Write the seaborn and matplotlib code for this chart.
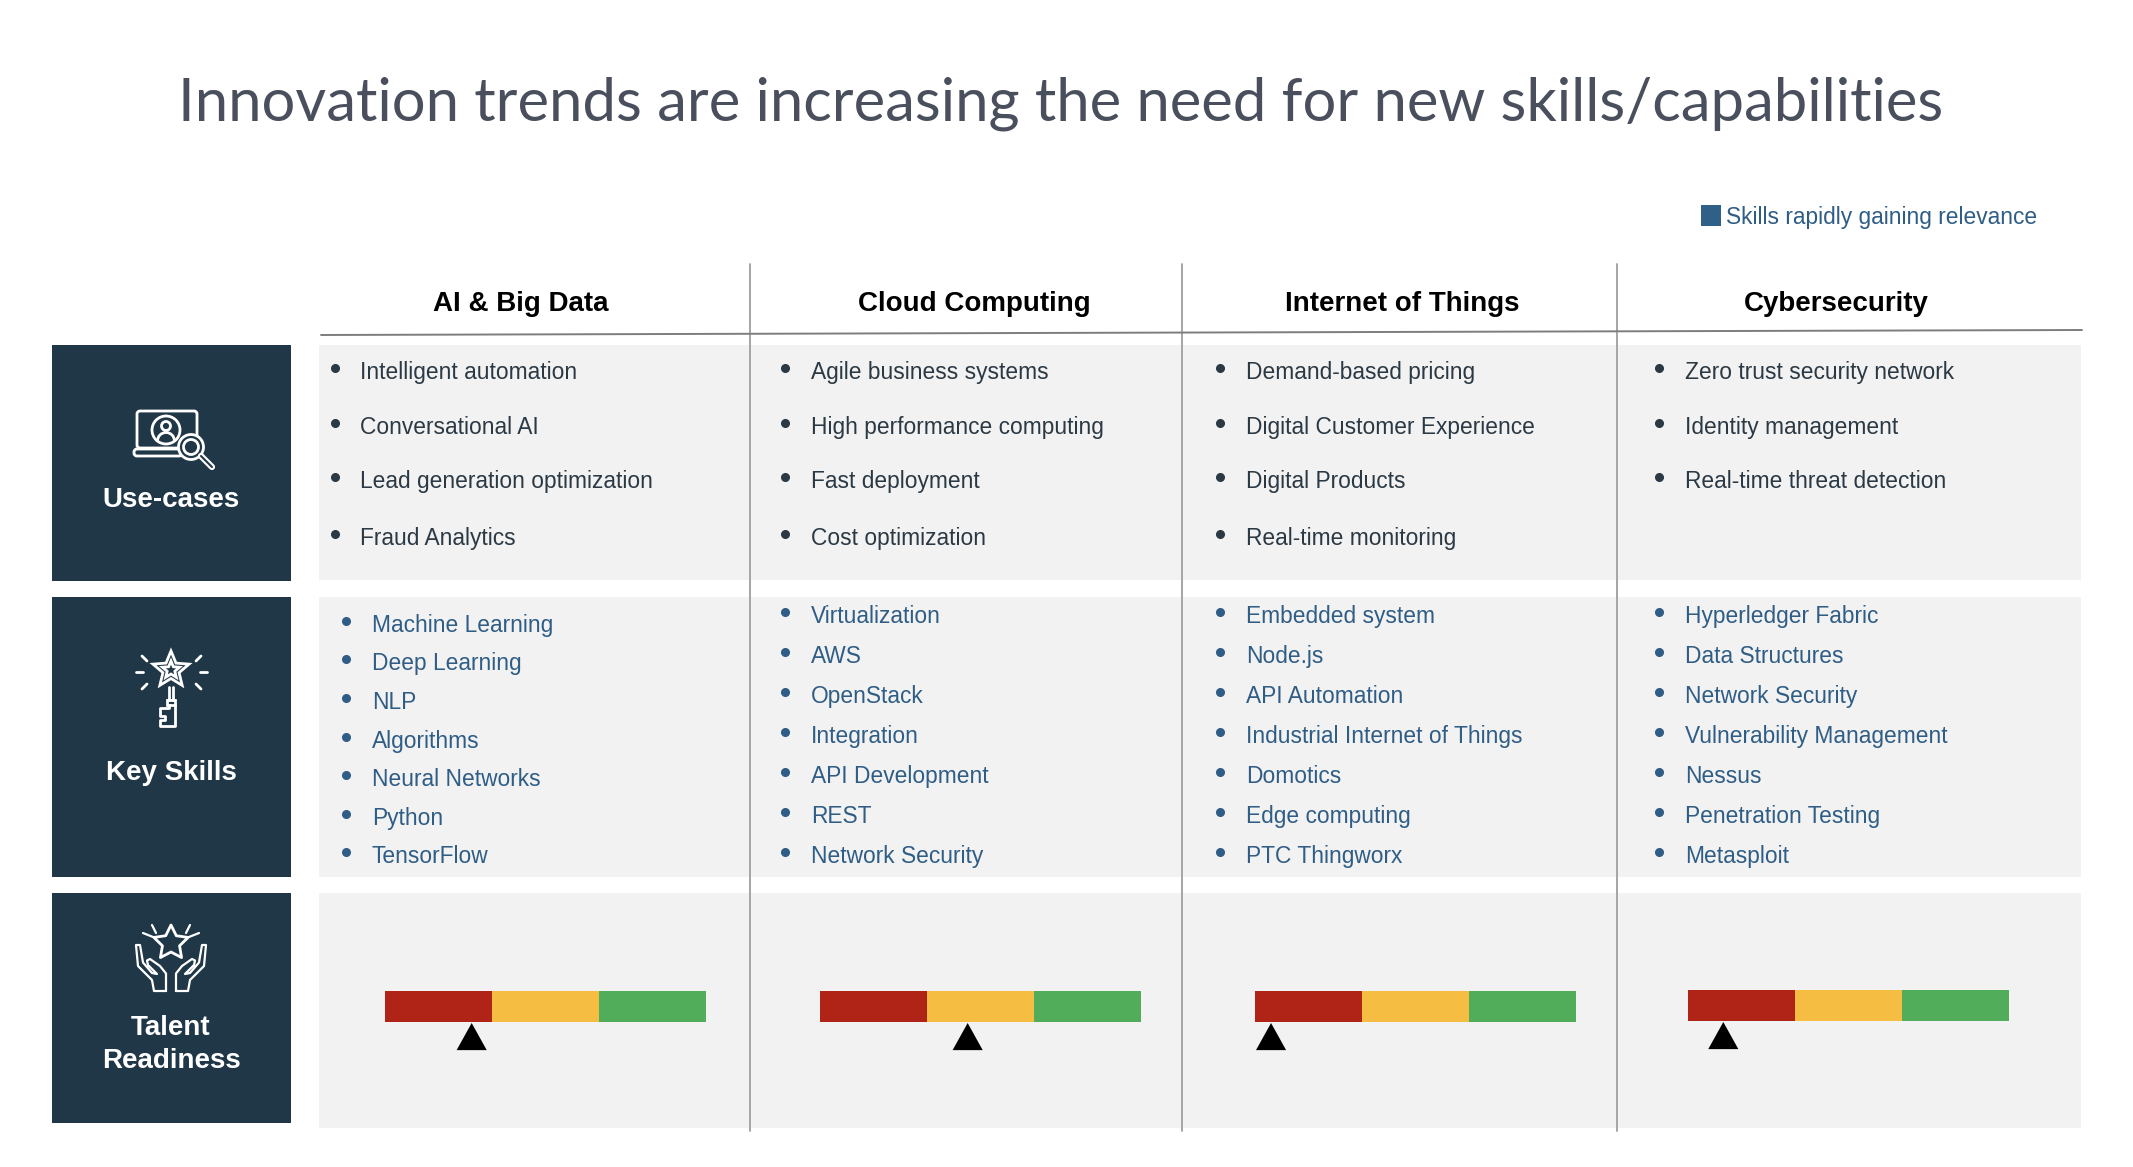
import matplotlib
matplotlib.use('Agg')
from matplotlib import pyplot as plt
from matplotlib.patches import Rectangle, FancyBboxPatch, Circle, Polygon, Arc
from matplotlib.path import Path
import numpy as np
import pandas as pd
import seaborn as sns

title = 'Innovation trends are increasing the need for new skills/capabilities'
legend_label = 'Skills rapidly gaining relevance'
columns = ['AI & Big Data', 'Cloud Computing', 'Internet of Things', 'Cybersecurity']

use_cases = [
    ['Intelligent automation', 'Conversational AI', 'Lead generation optimization', 'Fraud Analytics'],
    ['Agile business systems', 'High performance computing', 'Fast deployment', 'Cost optimization'],
    ['Demand-based pricing', 'Digital Customer Experience', 'Digital Products', 'Real-time monitoring'],
    ['Zero trust security network', 'Identity management', 'Real-time threat detection'],
]
key_skills = [
    ['Machine Learning', 'Deep Learning', 'NLP', 'Algorithms', 'Neural Networks', 'Python', 'TensorFlow'],
    ['Virtualization', 'AWS', 'OpenStack', 'Integration', 'API Development', 'REST', 'Network Security'],
    ['Embedded system', 'Node.js', 'API Automation', 'Industrial Internet of Things', 'Domotics',
     'Edge computing', 'PTC Thingworx'],
    ['Hyperledger Fabric', 'Data Structures', 'Network Security', 'Vulnerability Management', 'Nessus',
     'Penetration Testing', 'Metasploit'],
]
# gauge: three equal bands, marker = position on the 0-100 scale
band_names = ['Low', 'Medium', 'High']
band_tops = [33.3, 66.6, 100]
readiness = [27, 46, 5, 11]

NAVY = '#203748'
PANEL = '#f2f2f2'
BLUE = '#2f5d85'
DARK = '#2b3944'
BAND_COLORS = ['#b02418', '#f5bd41', '#52ad5b']
W, H = 2133, 1167

sns.set_theme(style='white')
plt.rcParams['font.family'] = ['Liberation Sans', 'DejaVu Sans']

fig = plt.figure(figsize=(W / 100, H / 100), dpi=100, facecolor='white')
ax = fig.add_axes([0, 0, 1, 1])
ax.set_xlim(0, W)
ax.set_ylim(H, 0)
ax.axis('off')

ax.text(1061, 104, title, ha='center', va='center', fontsize=43, color='#4a4f5e', family='Lato')

ax.add_patch(Rectangle((1701, 205), 20, 21, color='#2f6188', lw=0))
ax.text(1726, 224, legend_label, ha='left', va='baseline', fontsize=16.4, color=BLUE)

# left boxes and grey panels
for y0, y1, y2 in [(345, 581, 580), (597, 877, 877), (893, 1123, 1128)]:
    ax.add_patch(Rectangle((52, y0), 239, y1 - y0, color=NAVY, lw=0))
    ax.add_patch(Rectangle((319, y0), 1762, y2 - y0, color=PANEL, lw=0))

for x in [750, 1182, 1617]:
    ax.plot([x, x], [264, 1131], color='#a3a6a8', lw=1.4, zorder=3)
ax.plot([321, 2082], [335, 330], color='#7d7d7d', lw=1.4, zorder=3)

for x, name in zip([521, 974, 1402, 1836], columns):
    ax.text(x, 311, name, ha='center', va='baseline', fontsize=20, fontweight='bold', color='black')

for label, y in [('Use-cases', 507), ('Key Skills', 780), ('Talent', 1035), ('Readiness', 1068)]:
    ax.text(171, y, label, ha='center', va='baseline', fontsize=20, fontweight='bold', color='white')

# lists
text_x = [360, 811, 1246, 1685]
bullet_x = [335, 785, 1220, 1659]
use_y = [371, 426, 480, 537]
skill_y = [615, 655, 695, 735, 775, 815, 855]
skill_y_first = [624, 662, 701, 740, 778, 817, 855]

for i, items in enumerate(use_cases):
    for y, item in zip(use_y, items):
        ax.plot(bullet_x[i], y - 3, 'o', ms=5.5, color=DARK)
        ax.text(text_x[i], y + 8, item, ha='left', va='baseline', fontsize=16.4, color=DARK)

for i, items in enumerate(key_skills):
    ys = skill_y_first if i == 0 else skill_y
    tx = 372 if i == 0 else text_x[i]
    bx = 346 if i == 0 else bullet_x[i]
    for y, item in zip(ys, items):
        ax.plot(bx, y - 3, 'o', ms=5.5, color=BLUE)
        ax.text(tx, y + 8, item, ha='left', va='baseline', fontsize=16.4, color=BLUE)

# gauges, one small axes each
gauge_x = [385, 820, 1255, 1688]
gauge_w = 321
gauge_top = [991, 991, 991, 990]
band_h = 31
tri = Path([(-1, -0.9), (1, -0.9), (0, 0.9), (-1, -0.9)], closed=True)
for x0, top, value in zip(gauge_x, gauge_top, readiness):
    gax = fig.add_axes([x0 / W, 1 - (top + 3 * band_h) / H, gauge_w / W, 3 * band_h / H])
    gax.patch.set_alpha(0)
    # widest first so the narrower bands sit on top
    for name, end, color in list(zip(band_names, band_tops, BAND_COLORS))[::-1]:
        df = pd.DataFrame({'row': ['gauge'], 'pos': [end]})
        sns.barplot(data=df, x='pos', y='row', orient='h', width=1, color=color, saturation=1,
                    linewidth=0, ax=gax)
    sns.scatterplot(x=[value], y=[0.97], marker=tri, s=470, color='black', edgecolor='none',
                    legend=False, clip_on=False, ax=gax)
    gax.set_xlim(0, 100)
    gax.set_ylim(2.5, -0.5)
    gax.axis('off')

# icons, hand drawn with thin white lines
line = dict(color='white', lw=2, solid_capstyle='round', solid_joinstyle='round', zorder=4)


def outline(patch):
    patch.set(edgecolor='white', lw=2, zorder=4)
    ax.add_patch(patch)


# laptop with magnifier
outline(FancyBboxPatch((137, 411), 60, 37, boxstyle='round,pad=0,rounding_size=3', facecolor='none'))
outline(FancyBboxPatch((134, 449), 48, 7, boxstyle='round,pad=0,rounding_size=3', facecolor=NAVY))
outline(Circle((166, 430), 14, facecolor='none'))
outline(Circle((166, 426), 4.5, facecolor='none'))
outline(Arc((166, 441), 17, 17, theta1=180, theta2=360, fill=False))
outline(Circle((191, 447), 12.5, facecolor=NAVY))
outline(Circle((191, 447), 7.5, facecolor='none'))
ax.plot([201, 212], [456, 467], **dict(line, lw=4.5))
ax.plot([201, 212], [456, 467], color=NAVY, lw=1.5, zorder=5)

# star key
angles = np.deg2rad(np.arange(0, 360, 36) - 90)
for outer, inner in [(19, 8.5), (9, 4)]:
    radii = np.where(np.arange(10) % 2 == 0, outer, inner)
    star = np.column_stack([171 + radii * np.cos(angles), 670 + radii * np.sin(angles)])
    outline(Polygon(star, closed=True, facecolor='none'))
ax.plot([169, 169], [687, 700], **line)
ax.plot([173, 173], [687, 700], **line)
ax.add_patch(Rectangle((167, 700), 8, 5, facecolor='none', edgecolor='white', lw=2, zorder=4))
ax.plot([169, 169, 160, 160, 165, 165, 160, 160, 175, 175],
        [705, 708, 708, 716, 716, 720, 720, 726, 726, 705], **line)
for a, b, c, d in [(142, 656, 147, 661), (136, 672, 143, 672), (142, 689, 147, 684),
                   (201, 656, 196, 661), (200, 672, 207, 672), (196, 684, 201, 689)]:
    ax.plot([a, c], [b, d], **line)

# hands and star
radii = np.where(np.arange(10) % 2 == 0, 18, 9)
star = np.column_stack([171 + radii * np.cos(angles), 943 + radii * np.sin(angles)])
outline(Polygon(star, closed=True, facecolor='none', joinstyle='round'))
hand = np.array([(166, 991), (166, 973.5), (160, 966), (150, 959), (147, 960.5), (148, 965), (157, 974),
                 (152, 973), (143, 962.5), (140, 945), (136, 945), (138, 966), (152, 980), (154, 991),
                 (166, 991)])
for sign in [0, 1]:
    pts = hand if sign == 0 else np.column_stack([342 - hand[:, 0], hand[:, 1]])
    ax.plot(pts[:, 0], pts[:, 1], color='white', lw=1.6, zorder=4)
for a, b, c, d in [(152, 925, 156, 933), (143, 933, 153, 937), (190, 925, 186, 933), (199, 933, 189, 937)]:
    ax.plot([a, c], [b, d], color='white', lw=1.6, zorder=4)

fig.savefig('out.png', dpi=100)
